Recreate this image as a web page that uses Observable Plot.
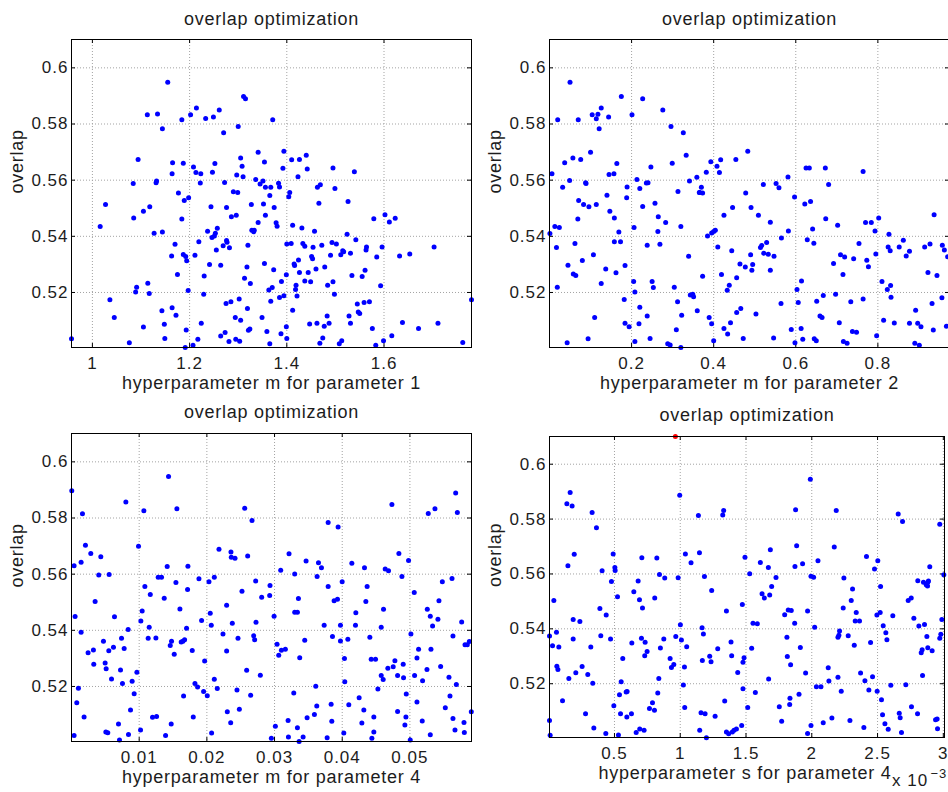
<!DOCTYPE html>
<html><head><meta charset="utf-8">
<script src="https://cdn.jsdelivr.net/npm/d3@7"></script>
<script src="https://cdn.jsdelivr.net/npm/@observablehq/plot@0.6"></script>
<style>
html,body{margin:0;padding:0;background:#fff;overflow:hidden}
#fig{position:relative;width:948px;height:792px;overflow:hidden;background:#fff}
.panel{position:absolute;width:480px}
.panel svg{max-width:none !important}
</style></head><body><div id="fig"></div>
<script>
// ---------- data ----------
const panelTitle = "overlap optimization";
const yLabel = "overlap";
const yTicks = [0.52, 0.54, 0.56, 0.58, 0.6];
const yDomain = [0.5004, 0.6101];

const xLabel1 = "hyperparameter m for parameter 1";
const xLabel2 = "hyperparameter m for parameter 2";
const xLabel3 = "hyperparameter m for parameter 4";
const xLabel4 = "hyperparameter s for parameter 4";
const xTicks1 = [1, 1.2, 1.4, 1.6];
const xTicks2 = [0.2, 0.4, 0.6, 0.8];
const xTicks3 = [0.01, 0.02, 0.03, 0.04, 0.05];
const xTicks4 = [0.5, 1, 1.5, 2, 2.5, 3]; // units of 1e-3
const xDomain1 = [0.957, 1.780];
const xDomain2 = [0, 0.9745];
const xDomain3 = [0, 0.0591];
const xDomain4 = [0.006, 3.009];
const exponentBase = "x 10";
const exponentPow = "\u22123";

// hyperparameter m for parameter 1 vs overlap
const param1Points = [
[1.155,.5949],[1.113,.5833],[1.134,.5836],[1.144,.5783],[1.184,.5815],[1.202,.5833],[1.214,.5857],[1.233,.5820],[1.249,.5825],[1.261,.5850],[1.270,.5769],[1.300,.5791],[1.311,.5898],[1.315,.5890],[1.371,.5815],
[1.094,.5674],[1.165,.5662],[1.187,.5660],[1.208,.5647],[1.164,.5623],[1.132,.5597],[1.131,.5591],[1.084,.5588],[1.213,.5627],[1.223,.5623],[1.222,.5590],[1.247,.5628],[1.252,.5659],[1.272,.5592],[1.305,.5679],[1.308,.5650],[1.297,.5618],[1.310,.5612],[1.341,.5699],[1.354,.5665],[1.336,.5602],[1.345,.5586],[1.351,.5597],[1.356,.5575],[1.367,.5575],[1.383,.5589],[1.385,.5576],[1.394,.5703],[1.392,.5642],[1.410,.5673],[1.426,.5674],[1.423,.5612],[1.440,.5689],[1.442,.5640],[1.365,.5545],[1.352,.5515],[1.374,.5503],[1.406,.5556],[1.404,.5541],[1.463,.5575],[1.469,.5584],[1.495,.5643],[1.499,.5570],[1.539,.5630],[1.466,.5518],[1.526,.5524],
[1.027,.5513],[1.177,.5554],[1.189,.5528],[1.198,.5537],[1.118,.5505],[1.105,.5489],[1.085,.5465],[1.184,.5462],[1.244,.5505],[1.276,.5503],[1.290,.5559],[1.299,.5556],[1.286,.5470],[1.296,.5475],[1.327,.5513],[1.341,.5449],[1.356,.5475],[1.378,.5448],[1.380,.5436],[1.412,.5439],[1.431,.5430],[1.579,.5463],[1.602,.5477],[1.611,.5451],[1.623,.5464],[1.016,.5435],[1.127,.5411],[1.144,.5415],[1.237,.5418],[1.246,.5396],[1.251,.5401],[1.253,.5411],[1.257,.5429],[1.328,.5422],[1.333,.5422],[1.332,.5416],[1.457,.5418],[1.524,.5407],
[1.170,.5372],[1.219,.5381],[1.255,.5351],[1.269,.5366],[1.276,.5385],[1.277,.5379],[1.282,.5359],[1.320,.5368],[1.400,.5373],[1.409,.5374],[1.433,.5374],[1.437,.5365],[1.454,.5361],[1.472,.5368],[1.493,.5378],[1.502,.5373],[1.542,.5388],[1.564,.5362],[1.563,.5351],[1.596,.5362],[1.703,.5362],[1.163,.5330],[1.187,.5335],[1.192,.5328],[1.194,.5313],[1.211,.5333],[1.241,.5300],[1.264,.5297],[1.354,.5303],[1.318,.5291],[1.373,.5281],[1.415,.5301],[1.416,.5296],[1.424,.5316],[1.426,.5271],[1.451,.5328],[1.453,.5320],[1.478,.5291],[1.490,.5333],[1.511,.5334],[1.515,.5349],[1.517,.5345],[1.531,.5340],[1.561,.5279],[1.585,.5326],[1.632,.5330],[1.653,.5337],
[1.175,.5264],[1.230,.5259],[1.313,.5251],[1.325,.5232],[1.389,.5239],[1.399,.5263],[1.437,.5241],[1.444,.5271],[1.449,.5238],[1.460,.5284],[1.484,.5226],[1.495,.5238],[1.534,.5260],[1.555,.5257],[1.593,.5224],[1.091,.5219],[1.089,.5202],[1.114,.5233],[1.117,.5196],[1.197,.5207],[1.229,.5194],[1.363,.5209],[1.370,.5218],[1.385,.5182],[1.394,.5188],[1.419,.5226],[1.418,.5211],[1.421,.5187],[1.498,.5194],
[1.036,.5174],[1.045,.5111],[1.105,.5077],[1.143,.5135],[1.164,.5146],[1.172,.5119],[1.148,.5087],[1.149,.5036],[1.076,.5021],[1.193,.5066],[1.191,.5004],[1.207,.5012],[1.217,.5033],[1.224,.5090],[1.264,.5045],[1.273,.5057],[1.275,.5161],[1.285,.5167],[1.281,.5025],[1.294,.5111],[1.295,.5033],[1.303,.5026],[1.302,.5177],[1.305,.5101],[1.319,.5143],[1.321,.5065],[1.324,.5070],[1.349,.5111],[1.359,.5061],[1.365,.5017],[1.367,.5169],[1.388,.5053],[1.399,.5078],[1.400,.5036],[1.412,.5137],[1.447,.5088],[1.462,.5090],[1.468,.5019],[1.474,.5038],[1.477,.5080],[1.483,.5116],[1.487,.5090],[1.508,.5017],[1.513,.5028],[1.528,.5116],[1.531,.5090],[1.545,.5159],[1.547,.5130],[1.550,.5125],[1.559,.5164],[1.570,.5167],[1.576,.5072],[1.583,.5012],[1.599,.5028],[1.616,.5046],[1.638,.5093],[1.671,.5072],[1.711,.5090],[1.762,.5022],[1.780,.5174],[0.957,.5035]
];

// hyperparameter m for parameter 2 vs overlap
const param2Points = [
[0.050,.5949],[0.020,.5815],[0.070,.5815],[0.104,.5833],[0.114,.5819],[0.118,.5835],[0.126,.5857],[0.121,.5783],[0.144,.5825],[0.175,.5898],[0.201,.5833],[0.227,.5890],[0.276,.5850],[0.296,.5791],[0.326,.5769],
[0.100,.5699],[0.057,.5679],[0.076,.5674],[0.037,.5662],[0.006,.5623],[0.032,.5575],[0.049,.5599],[0.088,.5591],[0.089,.5588],[0.164,.5659],[0.145,.5620],[0.157,.5623],[0.189,.5576],[0.188,.5537],[0.140,.5546],[0.071,.5528],[0.083,.5513],[0.096,.5505],[0.114,.5513],[0.147,.5489],[0.158,.5465],[0.069,.5462],[0.013,.5435],[0.024,.5431],[0.001,.5410],[0.017,.5360],[0.062,.5374],[0.169,.5415],[0.158,.5381],[0.173,.5381],[0.107,.5334],[0.080,.5314],[0.045,.5297],[0.137,.5284],[0.162,.5270],[0.184,.5296],[0.058,.5266],[0.064,.5260],[0.126,.5232],[0.019,.5219],[0.182,.5175],[0.110,.5111],[0.094,.5035],[0.043,.5021],[0.184,.5090],[0.194,.5078],
[0.213,.5602],[0.220,.5570],[0.227,.5506],[0.236,.5590],[0.240,.5591],[0.247,.5647],[0.257,.5518],[0.265,.5470],[0.264,.5417],[0.269,.5372],[0.283,.5449],[0.299,.5660],[0.313,.5560],[0.320,.5435],[0.333,.5689],[0.341,.5597],[0.339,.5329],[0.206,.5431],[0.205,.5239],[0.208,.5202],[0.238,.5368],[0.250,.5239],[0.253,.5218],[0.304,.5219],[0.312,.5167],[0.309,.5067],[0.322,.5119],[0.288,.5017],[0.294,.5013],[0.320,.5004],[0.245,.5036],[0.208,.5025],[0.220,.5147],[0.218,.5089],[0.238,.5116],
[0.359,.5610],[0.365,.5556],[0.370,.5575],[0.373,.5554],[0.366,.5556],[0.382,.5628],[0.393,.5666],[0.408,.5650],[0.414,.5627],[0.417,.5673],[0.395,.5412],[0.400,.5417],[0.404,.5422],[0.410,.5362],[0.385,.5401],[0.425,.5475],[0.446,.5503],[0.454,.5674],[0.483,.5703],[0.478,.5554],[0.491,.5503],[0.509,.5475],[0.514,.5360],[0.517,.5367],[0.522,.5340],[0.529,.5378],[0.533,.5336],[0.538,.5450],[0.538,.5279],[0.521,.5585],[0.552,.5588],[0.559,.5573],[0.581,.5611],[0.597,.5540],[0.582,.5419],[0.565,.5394],[0.547,.5329],[0.490,.5334],[0.495,.5300],[0.493,.5279],[0.464,.5301],[0.477,.5291],[0.456,.5252],[0.444,.5349],[0.433,.5208],[0.438,.5226],[0.419,.5264],[0.343,.5191],[0.349,.5194],[0.351,.5185],[0.360,.5135],[0.373,.5258],[0.389,.5111],[0.395,.5089],[0.400,.5028],[0.425,.5072],[0.434,.5052],[0.441,.5092],[0.456,.5129],[0.466,.5143],[0.472,.5036],[0.503,.5123],[0.546,.5038],[0.564,.5161],[0.589,.5068],[0.598,.5021],[0.603,.5211],[0.606,.5164],[0.614,.5241],[0.613,.5072],[0.617,.5033],
[0.622,.5515],[0.625,.5643],[0.633,.5643],[0.636,.5524],[0.641,.5426],[0.628,.5388],[0.644,.5375],[0.651,.5169],[0.659,.5116],[0.664,.5111],[0.667,.5189],[0.645,.5035],[0.650,.5028],[0.672,.5643],[0.680,.5585],[0.673,.5463],[0.692,.5303],[0.697,.5194],[0.702,.5439],[0.706,.5092],[0.709,.5334],[0.715,.5264],[0.719,.5326],[0.716,.5025],[0.725,.5019],[0.734,.5167],[0.738,.5061],[0.741,.5320],[0.748,.5058],[0.754,.5374],[0.764,.5631],[0.764,.5177],[0.770,.5449],[0.773,.5315],[0.777,.5292],[0.784,.5449],[0.793,.5419],[0.795,.5337],[0.797,.5046],[0.802,.5465],[0.810,.5239],[0.814,.5101],[0.823,.5211],[0.827,.5407],[0.825,.5362],[0.830,.5349],[0.831,.5225],[0.832,.5183],[0.840,.5091],[0.852,.5362],[0.862,.5386],[0.869,.5330],[0.877,.5347],[0.877,.5090],[0.892,.5137],[0.890,.5019],[0.897,.5090],[0.901,.5012],[0.905,.5078],[0.914,.5362],[0.922,.5271],[0.927,.5373],[0.932,.5161],[0.937,.5477],[0.935,.5066],[0.944,.5260],[0.956,.5181],[0.957,.5368],[0.962,.5351],[0.967,.5080],[0.970,.5327]
];

// hyperparameter m for parameter 4 vs overlap
const param4mPoints = [
[.00004,.5897],[.00038,.5630],[.00053,.5449],[.00142,.5642],[.00162,.5815],[.00038,.5025],[.00078,.5142],[.00102,.5194],[.00142,.5393],[.00186,.5091],[.00206,.5703],[.00245,.5320],[.00285,.5674],[.00324,.5330],[.00329,.5279],[.00349,.5503],[.00403,.5597],[.00433,.5662],[.00472,.5361],[.00497,.5284],[.00512,.5263],[.00507,.5038],[.00536,.5035],[.00551,.5327],[.00556,.5599],[.00591,.5227],[.00620,.5340],[.00635,.5448],[.00694,.5066],[.00709,.5009],[.00724,.5259],[.00739,.5372],[.00753,.5211],[.00778,.5335],[.00803,.5857],[.00837,.5403],[.00842,.5029],[.00872,.5116],[.00896,.5219],[.00926,.5174],[.00966,.5251],[.00990,.5699],
[.01020,.5045],[.01025,.5433],[.01044,.5469],[.01069,.5826],[.01084,.5556],[.01133,.5372],[.01148,.5411],[.01164,.5528],[.01197,.5090],[.01247,.5373],[.01257,.5093],[.01281,.5589],[.01330,.5589],[.01370,.5514],[.01390,.5025],[.01414,.5627],[.01434,.5948],[.01459,.5346],[.01478,.5361],[.01473,.5066],[.01518,.5315],[.01543,.5570],[.01557,.5833],[.01602,.5476],[.01621,.5358],[.01646,.5361],[.01656,.5166],[.01671,.5366],[.01700,.5407],[.01720,.5628],[.01715,.5545],[.01784,.5328],[.01799,.5091],[.01824,.5211],[.01863,.5198],[.01883,.5584],[.01922,.5435],[.01952,.5182],[.01967,.5291],
[.02006,.5167],[.02031,.5573],[.02050,.5461],[.02065,.5418],[.02070,.5034],[.02110,.5589],[.02110,.5226],[.02154,.5193],[.02179,.5689],[.02238,.5387],[.02292,.5489],[.02292,.5326],[.02302,.5110],[.02352,.5071],[.02356,.5679],[.02376,.5425],[.02361,.5660],[.02416,.5657],[.02445,.5187],[.02460,.5372],[.02480,.5119],[.02519,.5539],[.02559,.5835],[.02588,.5258],[.02603,.5665],[.02647,.5169],[.02667,.5791],[.02692,.5381],[.02706,.5366],[.02721,.5576],[.02726,.5429],[.02790,.5240],[.02810,.5518],[.02928,.5524],[.02933,.5560],[.02953,.5016],[.02993,.5450],
[.03012,.5058],[.03037,.5350],[.03062,.5311],[.03091,.5614],[.03101,.5329],[.03160,.5333],[.03200,.5079],[.03205,.5020],[.03214,.5673],[.03284,.5177],[.03298,.5601],[.03298,.5464],[.03338,.5464],[.03338,.5053],[.03353,.5513],[.03372,.5302],[.03363,.5004],[.03422,.5020],[.03446,.5365],[.03466,.5647],[.03481,.5089],[.03589,.5100],[.03609,.5201],[.03629,.5592],[.03624,.5130],[.03649,.5641],[.03693,.5623],[.03733,.5418],[.03777,.5017],[.03792,.5556],[.03792,.5784],[.03836,.5137],[.03846,.5076],[.03856,.5378],[.03880,.5505],[.03930,.5511],[.03939,.5768],[.03974,.5418],[.03974,.5362],[.03999,.5573],
[.04033,.5300],[.04038,.5217],[.04023,.5034],[.04097,.5135],[.04083,.5368],[.04142,.5639],[.04201,.5463],[.04196,.5418],[.04250,.5160],[.04290,.5070],[.04319,.5116],[.04329,.5623],[.04349,.5503],[.04368,.5556],[.04408,.5375],[.04428,.5297],[.04438,.5016],[.04467,.5091],[.04467,.5038],[.04492,.5297],[.04527,.5191],[.04576,.5239],[.04576,.5411],[.04610,.5475],[.04605,.5225],[.04635,.5618],[.04684,.5612],[.04674,.5265],[.04734,.5848],[.04753,.5270],[.04778,.5292],[.04818,.5111],[.04818,.5239],[.04837,.5674],[.04882,.5592],[.04901,.5279],[.04906,.5231],[.04926,.5063],[.04946,.5173],[.04941,.5091],[.04980,.5649],
[.05015,.5387],[.05005,.5009],[.05064,.5535],[.05069,.5239],[.05104,.5301],[.05104,.5145],[.05128,.5333],[.05182,.5077],[.05187,.5220],[.05252,.5260],[.05257,.5475],[.05271,.5816],[.05301,.5028],[.05301,.5450],[.05311,.5333],[.05335,.5415],[.05370,.5833],[.05414,.5439],[.05429,.5505],[.05454,.5271],[.05479,.5573],[.05523,.5124],[.05577,.5233],[.05592,.5166],[.05622,.5585],[.05636,.5380],[.05636,.5086],[.05666,.5045],[.05676,.5889],[.05686,.5207],[.05701,.5820],[.05765,.5430],[.05799,.5072],[.05804,.5036],[.05814,.5349],[.05848,.5349],[.05878,.5360],[.05907,.5110]
];

// hyperparameter s for parameter 4 (x 1e-3) vs overlap
const param4sPoints = [
[.006,.5374],[.006,.5066],[.011,.5012],[.029,.5338],[.039,.5503],[.059,.5388],[.062,.5264],[.070,.5252],[.077,.5334],[.105,.5138],[.138,.5856],[.146,.5630],[.153,.5219],[.163,.5897],[.178,.5848],[.186,.5434],[.186,.5363],[.194,.5672],[.206,.5240],[.237,.5427],[.254,.5263],[.280,.5091],[.297,.5234],[.320,.5334],[.330,.5824],[.335,.5202],[.343,.5039],[.363,.5768],[.389,.5474],[.396,.5375],[.406,.5612],[.434,.5019],[.437,.5450],[.470,.5363],[.477,.5573],[.490,.5673],[.495,.5120],[.503,.5624],[.505,.5613],
[.523,.5517],[.530,.5013],[.538,.5160],[.546,.5091],[.551,.5207],[.563,.5292],[.589,.5170],[.594,.5079],[.596,.5172],[.632,.5348],[.629,.5091],[.647,.5535],[.665,.5022],[.680,.5574],[.690,.5506],[.692,.5035],[.705,.5366],[.708,.5659],[.713,.5476],[.725,.5030],[.730,.5302],[.733,.5351],[.748,.5317],[.766,.5110],[.789,.5131],[.804,.5103],[.806,.5512],[.822,.5658],[.829,.5166],[.837,.5219],[.842,.5598],[.849,.5330],[.875,.5363],[.882,.5585],[.923,.5292],[.933,.5259],[.951,.5270],[.966,.5372],[.984,.5586],[.996,.5887],
[1.001,.5415],[1.009,.5359],[1.024,.5195],[1.032,.5261],[1.034,.5113],[1.039,.5673],[1.049,.5335],[1.082,.5641],[1.138,.5813],[1.146,.5677],[1.148,.5030],[1.158,.5094],[1.166,.5404],[1.168,.5285],[1.176,.5381],[1.184,.5591],[1.189,.5091],[1.199,.5003],[1.224,.5300],[1.234,.5280],[1.239,.5540],[1.265,.5081],[1.285,.5327],[1.323,.5815],[1.330,.5831],[1.338,.5137],[1.351,.5465],[1.351,.5024],[1.368,.5018],[1.386,.5352],[1.391,.5302],[1.396,.5024],[1.409,.5030],[1.427,.5035],[1.437,.5241],[1.467,.5048],[1.472,.5489],[1.477,.5278],[1.477,.5182],[1.485,.5295],[1.492,.5661],
[1.513,.5113],[1.528,.5601],[1.543,.5329],[1.553,.5420],[1.571,.5168],[1.586,.5419],[1.609,.5642],[1.622,.5528],[1.639,.5512],[1.670,.5624],[1.672,.5217],[1.680,.5523],[1.685,.5688],[1.695,.5554],[1.728,.5587],[1.753,.5116],[1.771,.5063],[1.794,.5451],[1.811,.5369],[1.814,.5299],[1.821,.5469],[1.832,.5124],[1.834,.5147],[1.839,.5269],[1.844,.5467],[1.870,.5420],[1.877,.5834],[1.872,.5627],[1.885,.5703],[1.903,.5162],[1.913,.5332],[1.930,.5637],[1.953,.5239],[1.968,.5019],[1.968,.5465],[1.989,.5945],[1.994,.5048],[1.994,.5592],
[2.014,.5588],[2.022,.5406],[2.035,.5189],[2.047,.5648],[2.070,.5189],[2.087,.5058],[2.125,.5258],[2.130,.5210],[2.153,.5075],[2.171,.5698],[2.186,.5831],[2.199,.5224],[2.199,.5369],[2.206,.5377],[2.211,.5392],[2.224,.5173],[2.239,.5476],[2.244,.5585],[2.277,.5375],[2.290,.5066],[2.300,.5503],[2.310,.5545],[2.323,.5340],[2.330,.5429],[2.338,.5460],[2.363,.5429],[2.371,.5239],[2.396,.5040],[2.404,.5211],[2.416,.5664],[2.434,.5177],[2.447,.5350],[2.462,.5225],[2.477,.5618],[2.497,.5173],[2.495,.5450],
[2.502,.5648],[2.520,.5460],[2.523,.5554],[2.530,.5142],[2.538,.5087],[2.543,.5411],[2.556,.5054],[2.563,.5386],[2.571,.5360],[2.581,.5034],[2.601,.5194],[2.616,.5448],[2.657,.5819],[2.665,.5092],[2.672,.5076],[2.682,.5022],[2.690,.5791],[2.715,.5196],[2.733,.5503],[2.756,.5512],[2.758,.5116],[2.776,.5439],[2.804,.5091],[2.806,.5575],[2.814,.5410],[2.832,.5313],[2.839,.5324],[2.842,.5230],[2.849,.5570],[2.857,.5416],[2.870,.5561],[2.875,.5372],[2.882,.5331],[2.882,.5570],[2.880,.5556],[2.887,.5574],[2.897,.5626],[2.915,.5320],[2.941,.5069],[2.953,.5071],[2.956,.5036],[2.973,.5781],[2.973,.5366],[2.981,.5380],[2.989,.5434],[3.004,.5597]
];

// best trial (highlighted in red)
const bestPoint = [[0.963, 0.6101]];

// ---------- drawing ----------
const FONT = "'Liberation Sans', Arial, Helvetica, sans-serif";
const fig = document.getElementById("fig");

function panel(cfg) {
  const {points, xDomain, xTicks, xLabel, left, top, W, H, ml, mr, mt, mb, titleGap, xLabelDx = 0, extras = []} = cfg;
  const iw = W - ml - mr, ih = H - mt - mb;
  const grid = {stroke: "#a3a3a3", strokeWidth: 1, strokeDasharray: "1,2"};
  const svg = Plot.plot({
    width: W, height: H,
    marginLeft: ml, marginRight: mr, marginTop: mt, marginBottom: mb,
    style: {background: "transparent", fontFamily: FONT, fontSize: "17px", letterSpacing: "1px", color: "#1c1c1c", overflow: "visible", maxWidth: "none"},
    x: {domain: xDomain, ticks: xTicks, tickFormat: d => String(d), tickSize: 0, tickPadding: 9.5, label: null},
    y: {domain: yDomain, ticks: yTicks, tickFormat: d => String(d), tickSize: 0, tickPadding: 3, label: null},
    marks: [
      Plot.ruleX(xTicks, {x: d => d, ...grid}),
      Plot.ruleY(yTicks, {y: d => d, ...grid}),
      Plot.tickX(xTicks, {x: d => d, insetTop: ih - 4, stroke: "#000"}),
      Plot.tickX(xTicks, {x: d => d, insetBottom: ih - 4, stroke: "#000"}),
      Plot.tickY(yTicks, {y: d => d, insetRight: iw - 4, stroke: "#000"}),
      Plot.tickY(yTicks, {y: d => d, insetLeft: iw - 4, stroke: "#000"}),
      Plot.dot(points, {x: d => d[0], y: d => d[1], r: 2.5, fill: "#0000ff", stroke: null}),
      ...extras,
      Plot.frame({stroke: "#000", strokeWidth: 1}),
      Plot.text([panelTitle], {text: d => d, frameAnchor: "top", lineAnchor: "bottom", dy: -titleGap, fontSize: 18, letterSpacing: 0.75}),
      Plot.text([xLabel], {text: d => d, frameAnchor: "bottom", lineAnchor: "bottom", dy: 41.5, dx: xLabelDx, fontSize: 18}),
      Plot.text([yLabel], {text: d => d, frameAnchor: "left", rotate: -90, lineAnchor: "bottom", dx: -49, fontSize: 18})
    ]
  });
  svg.querySelectorAll("text").forEach(t => {
    if (t.textContent === panelTitle || t.textContent.startsWith("hyperparameter") || t.textContent === yLabel) t.style.letterSpacing = "0.75px";
  });
  const div = document.createElement("div");
  div.className = "panel";
  div.style.left = left + "px";
  div.style.top = top + "px";
  div.style.width = W + "px";
  div.appendChild(svg);
  fig.appendChild(div);
}

panel({points: param1Points, xDomain: xDomain1, xTicks: xTicks1, xLabel: xLabel1,
  left: 0, top: 0, W: 480, H: 400, ml: 71, mr: 9, mt: 39, mb: 53, titleGap: 14.5});
panel({points: param2Points, xDomain: xDomain2, xTicks: xTicks2, xLabel: xLabel2,
  left: 474, top: 0, W: 480, H: 400, ml: 75, mr: 5, mt: 39, mb: 53, titleGap: 14.5});
panel({points: param4mPoints, xDomain: xDomain3, xTicks: xTicks3, xLabel: xLabel3,
  left: 0, top: 396, W: 480, H: 396, ml: 71, mr: 9, mt: 37, mb: 51, titleGap: 15.5});
panel({points: param4sPoints, xDomain: xDomain4, xTicks: xTicks4, xLabel: xLabel4,
  left: 474, top: 396, W: 480, H: 396, ml: 75, mr: 10, mt: 40, mb: 55, titleGap: 15.5, xLabelDx: -2,
  extras: [
    Plot.dot(bestPoint, {x: d => d[0], y: d => d[1], r: 2.5, fill: "#ff0000", stroke: null}),
    Plot.text([exponentBase], {text: d => d, frameAnchor: "bottom-right", textAnchor: "start", lineAnchor: "bottom", dx: -52.5, dy: 48, fontSize: 17}),
    Plot.text([exponentPow], {text: d => d, frameAnchor: "bottom-right", textAnchor: "start", lineAnchor: "bottom", dx: -14, dy: 40, fontSize: 13})
  ]});
</script>
</body></html>
